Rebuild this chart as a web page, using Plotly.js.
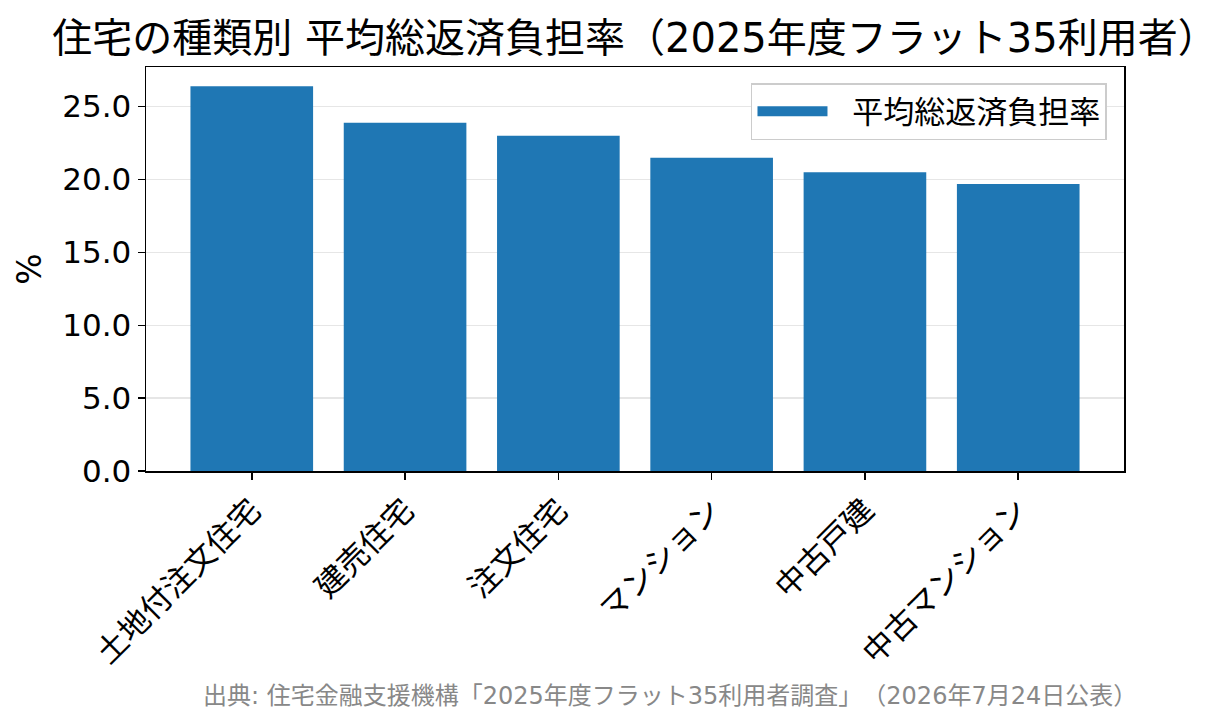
<!DOCTYPE html>
<html>
<head>
<meta charset="utf-8">
<script src="https://cdn.plot.ly/plotly-3.0.1.min.js"></script>
<style>
  html, body { margin: 0; padding: 0; background: #fff; }
  #chart { width: 1231px; height: 725px; }
  /* keep full-width brackets at full width, like the original */
  .main-svg text { text-spacing-trim: space-all; }
</style>
</head>
<body>
<div id="chart"></div>
<script>
// data
var housingTypes = ['土地付注文住宅', '建売住宅', '注文住宅', 'マンション', '中古戸建', '中古マンション'];
var repaymentRatio = [26.4, 23.9, 23.0, 21.5, 20.5, 19.7];
var yTickValues = [0, 5, 10, 15, 20, 25];
var yTickLabels = ['0.0', '5.0', '10.0', '15.0', '20.0', '25.0'];
var seriesName = '平均総返済負担率';

var FONT = '"DejaVu Sans", "Noto Sans CJK JP", sans-serif';

var bars = {
    type: 'bar', x: [0, 1, 2, 3, 4, 5], y: repaymentRatio, width: 0.8,
    name: seriesName, marker: {color: '#1f77b4'}, showlegend: false,
    hoverinfo: 'skip'
};
// legend entry only: a wide patch like matplotlib's
var legendPatch = {
    type: 'scatter', mode: 'lines', x: [null], y: [null],
    name: '\u00a0\u00a0' + seriesName,
    line: {color: '#1f77b4', width: 20}, showlegend: true, hoverinfo: 'skip'
};

var layout = {
    width: 1231, height: 725,
    margin: {l: 146, r: 107, t: 67, b: 254, pad: 0},
    paper_bgcolor: '#fff', plot_bgcolor: '#fff',
    font: {family: FONT, color: '#000'},
    title: {text: '住宅の種類別 平均総返済負担率（2025年度フラット35利用者）',
            font: {family: FONT, size: 40, color: '#000'},
            x: 0.5, xref: 'paper', xanchor: 'center', y: 0.9476, yref: 'container', yanchor: 'middle'},
    showlegend: true,
    legend: {x: 0.9826, y: 0.96, xanchor: 'right', yanchor: 'top', itemwidth: 70,
             bgcolor: '#fff', bordercolor: '#cccccc', borderwidth: 1.5,
             font: {family: FONT, size: 31, color: '#000'}},
    xaxis: {range: [-0.69, 5.69], tickvals: [0, 1, 2, 3, 4, 5], ticktext: housingTypes,
            tickangle: -45, ticks: 'outside', ticklen: 7, tickwidth: 1.5, tickcolor: '#000',
            linecolor: '#000', linewidth: 1.5, mirror: true, showgrid: false, zeroline: false,
            tickfont: {family: FONT, size: 31, color: '#000'}, fixedrange: true},
    yaxis: {range: [0, 27.72], tickvals: yTickValues, ticktext: yTickLabels,
            ticks: 'outside', ticklen: 7, tickwidth: 1.5, tickcolor: '#000',
            linecolor: '#000', linewidth: 1.5, mirror: true,
            showgrid: true, gridcolor: 'rgba(200,200,200,0.45)', gridwidth: 1.5, zeroline: false,
            layer: 'above traces',
            tickfont: {family: FONT, size: 31, color: '#000'},
            title: {text: '%', font: {family: FONT, size: 33, color: '#000'}, standoff: 10},
            fixedrange: true},
    annotations: [{
        text: '出典: 住宅金融支援機構「2025年度フラット35利用者調査」（2026年7月24日公表）',
        xref: 'paper', yref: 'paper', x: 0.536, y: -0.557, xanchor: 'center', yanchor: 'middle',
        showarrow: false, font: {family: FONT, size: 24, color: '#888888'}
    }]
};

Plotly.newPlot('chart', [bars, legendPatch], layout, {displayModeBar: false, staticPlot: true});
</script>
</body>
</html>
